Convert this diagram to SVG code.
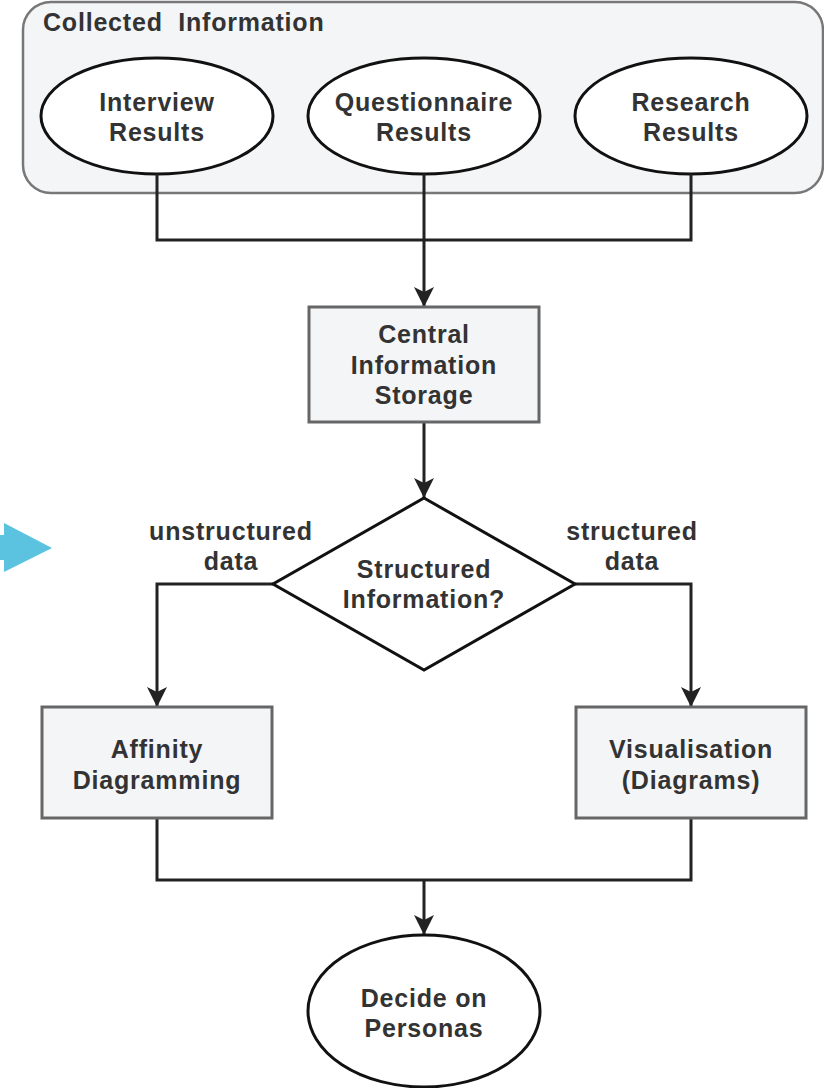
<svg xmlns="http://www.w3.org/2000/svg" width="824" height="1088" viewBox="0 0 824 1088">
  <defs>
    <style>
      .lbl { font-family: "Liberation Sans", Arial, sans-serif; font-weight: bold; font-size: 25px; fill: #333; text-anchor: middle; letter-spacing: 0.8px; }
      .group { fill: #f4f5f7; stroke: #777; stroke-width: 2.5; }
      .box { fill: #f4f5f7; stroke: #666; stroke-width: 3; }
      .term { fill: #fff; stroke: #111; stroke-width: 3; }
      .wire { fill: none; stroke: #222; stroke-width: 3; }
      .arrow { fill: none; stroke: #222; stroke-width: 3; marker-end: url(#head); }
    </style>
    <marker id="head" markerUnits="userSpaceOnUse" markerWidth="22" markerHeight="20" viewBox="0 0 22 20" refX="20" refY="10" orient="auto">
      <path d="M0,0 L20,10 L0,20 L5,10 z" fill="#222"/>
    </marker>
  </defs>

  <rect width="824" height="1088" fill="#fff"/>

  <!-- pointer arrow on the left margin -->
  <polygon points="0,535 4,535 4,523 52,548 4,572 4,560 0,560" fill="#5bc3e0"/>

  <!-- collected information container -->
  <g id="collected">
    <rect class="group" x="23" y="2" width="800" height="191" rx="28"/>
    <text class="lbl" x="43" y="31" style="text-anchor:start">Collected&#160; Information</text>
  </g>

  <g id="interview">
    <ellipse class="term" cx="157" cy="116" rx="116" ry="58"/>
    <text class="lbl" x="157" y="111">Interview</text>
    <text class="lbl" x="157" y="141">Results</text>
  </g>

  <g id="questionnaire">
    <ellipse class="term" cx="424" cy="116" rx="116" ry="58"/>
    <text class="lbl" x="424" y="111">Questionnaire</text>
    <text class="lbl" x="424" y="141">Results</text>
  </g>

  <g id="research">
    <ellipse class="term" cx="691" cy="116" rx="116" ry="58"/>
    <text class="lbl" x="691" y="111">Research</text>
    <text class="lbl" x="691" y="141">Results</text>
  </g>

  <!-- connectors -->
  <g id="connectors">
    <path class="wire" d="M157,174 V240 H691 V174"/>
    <path class="arrow" d="M424,174 V307"/>
    <path class="arrow" d="M424,422 V498"/>
    <path class="arrow" d="M273,584 H157 V707"/>
    <path class="arrow" d="M575,584 H691 V707"/>
    <path class="wire" d="M157,818 V880 H691 V818"/>
    <path class="arrow" d="M424,880 V935"/>
    <text class="lbl" x="231" y="540">unstructured</text>
    <text class="lbl" x="231" y="570">data</text>
    <text class="lbl" x="632" y="540">structured</text>
    <text class="lbl" x="632" y="570">data</text>
  </g>

  <g id="storage">
    <rect class="box" x="309" y="307" width="230" height="115"/>
    <text class="lbl" x="424" y="343">Central</text>
    <text class="lbl" x="424" y="374">Information</text>
    <text class="lbl" x="424" y="404">Storage</text>
  </g>

  <g id="decision">
    <polygon class="term" points="424,498 575,584 424,670 273,584"/>
    <text class="lbl" x="424" y="578">Structured</text>
    <text class="lbl" x="424" y="608">Information?</text>
  </g>

  <g id="affinity">
    <rect class="box" x="42" y="707" width="230" height="111"/>
    <text class="lbl" x="157" y="758">Affinity</text>
    <text class="lbl" x="157" y="789">Diagramming</text>
  </g>

  <g id="visualisation">
    <rect class="box" x="576" y="707" width="230" height="111"/>
    <text class="lbl" x="691" y="758">Visualisation</text>
    <text class="lbl" x="691" y="789">(Diagrams)</text>
  </g>

  <g id="personas">
    <ellipse class="term" cx="424" cy="1011" rx="116" ry="76"/>
    <text class="lbl" x="424" y="1007">Decide on</text>
    <text class="lbl" x="424" y="1037">Personas</text>
  </g>
</svg>
